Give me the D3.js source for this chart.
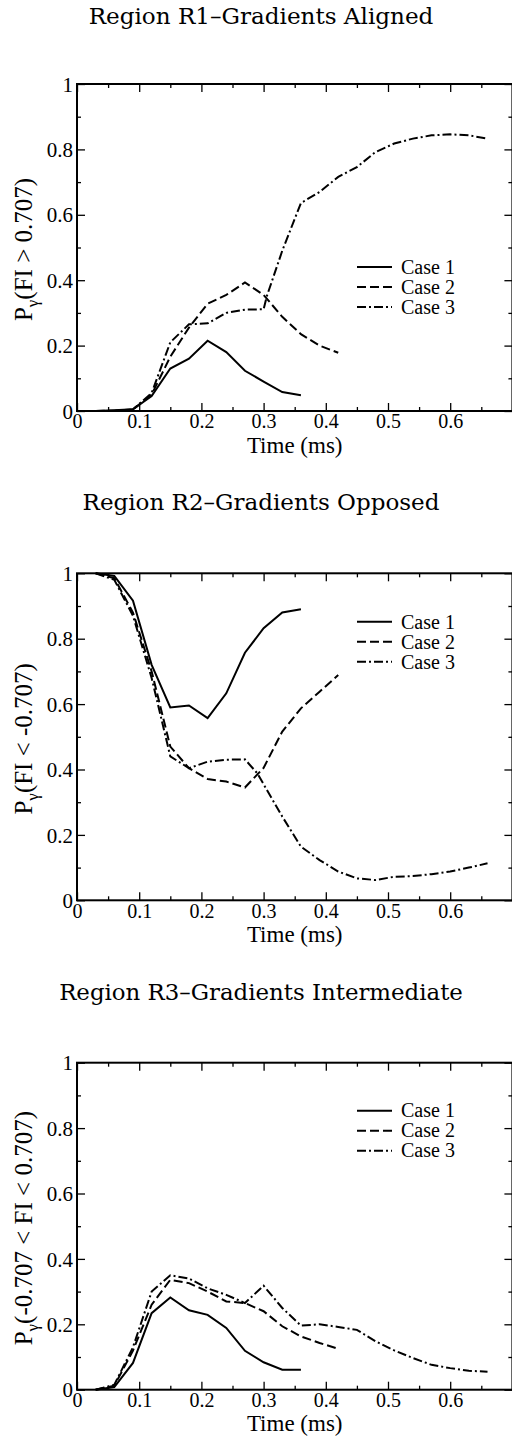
<!DOCTYPE html>
<html>
<head>
<meta charset="utf-8">
<script src="https://cdn.jsdelivr.net/npm/d3@7"></script>
<style>
  body { margin: 0; background: #fff; }
  svg { display: block; }
  text { font-family: "Liberation Serif", "Times New Roman", serif; fill: #000; }
  text.title { font-family: "DejaVu Serif", serif; }
</style>
</head>
<body>
<svg id="chart" width="512" height="1437"></svg>
<script>
// time samples (ms)
const timeCase1 = [0.03, 0.06, 0.09, 0.12, 0.15, 0.18, 0.21, 0.24, 0.27, 0.30, 0.33, 0.36];
const timeCase2 = [0.03, 0.06, 0.09, 0.12, 0.15, 0.18, 0.21, 0.24, 0.27, 0.30, 0.33, 0.36, 0.39, 0.42];
const timeCase3 = [0.03, 0.06, 0.09, 0.12, 0.15, 0.18, 0.21, 0.24, 0.27, 0.30, 0.33, 0.36, 0.39, 0.42,
                   0.45, 0.48, 0.51, 0.54, 0.57, 0.60, 0.63, 0.66];
const timeCase3R1 = [0.03, 0.06, 0.09, 0.12, 0.15, 0.18, 0.21, 0.24, 0.27, 0.30, 0.305, 0.33, 0.36, 0.39,
                     0.42, 0.45, 0.48, 0.51, 0.54, 0.57, 0.60, 0.63, 0.66];
const timeCase3R2 = [0.03, 0.06, 0.09, 0.12, 0.15, 0.18, 0.21, 0.24, 0.27, 0.29, 0.33, 0.36, 0.39, 0.42,
                     0.45, 0.48, 0.51, 0.54, 0.57, 0.60, 0.63, 0.66];

// Region R1 - gradients aligned
const r1Case1 = [0, 0.002, 0.005, 0.046, 0.13, 0.16, 0.215, 0.18, 0.123, 0.09, 0.058, 0.048];
const r1Case2 = [0, 0.001, 0.005, 0.05, 0.166, 0.255, 0.328, 0.355, 0.393, 0.355, 0.288, 0.235, 0.2, 0.178];
const r1Case3 = [0, 0, 0.005, 0.055, 0.21, 0.265, 0.268, 0.30, 0.31, 0.311, 0.35, 0.49, 0.636, 0.67,
                 0.716, 0.746, 0.792, 0.818, 0.833, 0.843, 0.846, 0.843, 0.833];

// Region R2 - gradients opposed
const r2Case1 = [1.0, 0.992, 0.916, 0.72, 0.59, 0.596, 0.557, 0.633, 0.757, 0.832, 0.88, 0.89];
const r2Case2 = [1.0, 0.985, 0.88, 0.70, 0.47, 0.404, 0.371, 0.363, 0.345, 0.405, 0.516, 0.587, 0.638, 0.689];
const r2Case3 = [1.0, 0.98, 0.87, 0.68, 0.44, 0.404, 0.424, 0.43, 0.431, 0.388, 0.256, 0.164, 0.123, 0.088,
                 0.067, 0.062, 0.072, 0.074, 0.08, 0.088, 0.1, 0.113];

// Region R3 - gradients intermediate
const r3Case1 = [0, 0.008, 0.082, 0.234, 0.282, 0.243, 0.229, 0.189, 0.119, 0.084, 0.061, 0.061];
const r3Case2 = [0, 0.012, 0.12, 0.26, 0.336, 0.326, 0.30, 0.27, 0.265, 0.24, 0.194, 0.163, 0.143, 0.125];
const r3Case3 = [0, 0.015, 0.13, 0.30, 0.35, 0.34, 0.31, 0.29, 0.265, 0.318, 0.25, 0.196, 0.2, 0.192,
                 0.183, 0.148, 0.12, 0.097, 0.076, 0.066, 0.058, 0.055];

const caseNames = ["Case 1", "Case 2", "Case 3"];
const xMajor = [0, 0.1, 0.2, 0.3, 0.4, 0.5, 0.6];
const xMinor = [0.05, 0.15, 0.25, 0.35, 0.45, 0.55, 0.65];
const yMajor = [0, 0.2, 0.4, 0.6, 0.8, 1];
const yMinor = [0.1, 0.3, 0.5, 0.7, 0.9];

const titles = ["Region R1\u2013Gradients Aligned", "Region R2\u2013Gradients Opposed", "Region R3\u2013Gradients Intermediate"];
const yLabels = ["(FI > 0.707)", "(FI < -0.707)", "(-0.707 < FI < 0.707)"];

const dashes = [null, "9,4", "9,3,2,3"];

// layout
const panels = [
  { top: 84,    titleY: 24,   titleW: 345, legendTop: 183, series: [[timeCase1, r1Case1], [timeCase2, r1Case2], [timeCase3R1, r1Case3]] },
  { top: 573.3, titleY: 510,  titleW: 357, legendTop: 48.5, series: [[timeCase1, r2Case1], [timeCase2, r2Case2], [timeCase3R2, r2Case3]] },
  { top: 1062.7, titleY: 1000, titleW: 404, legendTop: 48, series: [[timeCase1, r3Case1], [timeCase2, r3Case2], [timeCase3, r3Case3]] }
];

const left = 77, right = 512.4, plotH = 327;
const svg = d3.select("#chart");

const x = d3.scaleLinear().domain([0, 0.7]).range([0, right - left]);
const y = d3.scaleLinear().domain([0, 1]).range([plotH, 0]);
const fmt = d3.format("~g");

panels.forEach(function (p, i) {
  // title, font size scaled to the reference width
  const t = svg.append("text")
    .attr("class", "title")
    .attr("x", 261).attr("y", p.titleY)
    .attr("text-anchor", "middle")
    .style("font-size", "20px")
    .text(titles[i]);
  const w = t.node().getComputedTextLength();
  t.style("font-size", (20 * p.titleW / w) + "px");

  const g = svg.append("g").attr("transform", "translate(" + left + "," + p.top + ")");
  const W = right - left;

  // ticks (pointing inward on all four sides)
  g.append("g").attr("transform", "translate(0," + plotH + ")")
    .call(d3.axisBottom(x).tickValues(xMajor).tickFormat(fmt).tickSize(-8).tickPadding(3));
  g.append("g").attr("transform", "translate(0," + plotH + ")")
    .call(d3.axisBottom(x).tickValues(xMinor).tickFormat("").tickSize(-4));
  g.append("g").call(d3.axisTop(x).tickValues(xMajor).tickFormat("").tickSize(-8));
  g.append("g").call(d3.axisTop(x).tickValues(xMinor).tickFormat("").tickSize(-4));
  const ay = g.append("g")
    .call(d3.axisLeft(y).tickValues(yMajor).tickFormat(fmt).tickSize(-8).tickPadding(4));
  g.append("g").call(d3.axisLeft(y).tickValues(yMinor).tickFormat("").tickSize(-4));
  g.append("g").attr("transform", "translate(" + W + ",0)")
    .call(d3.axisRight(y).tickValues(yMajor).tickFormat("").tickSize(-8));
  g.append("g").attr("transform", "translate(" + W + ",0)")
    .call(d3.axisRight(y).tickValues(yMinor).tickFormat("").tickSize(-4));

  g.selectAll(".domain").remove();
  g.selectAll(".tick line").attr("stroke", "#000").attr("stroke-width", 1.3);
  g.selectAll(".tick text").style("font-size", "20px").attr("font-family", null);
  ay.selectAll(".tick text").attr("dy", "0.34em").style("font-size", "21px");

  // frame
  g.append("rect")
    .attr("x", 0).attr("y", 0).attr("width", W).attr("height", plotH)
    .attr("fill", "none").attr("stroke", "#000").attr("stroke-width", 2);

  // curves
  const line = d3.line().x(d => x(d[0])).y(d => y(d[1]));
  p.series.forEach(function (s, k) {
    const pts = s[0].map((tt, j) => [tt, s[1][j]]);
    g.append("path")
      .datum(pts)
      .attr("d", line)
      .attr("fill", "none")
      .attr("stroke", "#000")
      .attr("stroke-width", 2)
      .attr("stroke-dasharray", dashes[k]);
  });

  // legend
  caseNames.forEach(function (name, k) {
    const ly = p.legendTop + k * 20;
    g.append("line")
      .attr("x1", 280).attr("x2", 315).attr("y1", ly).attr("y2", ly)
      .attr("stroke", "#000").attr("stroke-width", 2)
      .attr("stroke-dasharray", dashes[k]);
    g.append("text")
      .attr("x", 324).attr("y", ly).attr("dy", "0.34em")
      .style("font-size", "20px")
      .text(name);
  });

  // x axis label
  g.append("text")
    .attr("x", W / 2).attr("y", plotH + 41.5)
    .attr("text-anchor", "middle")
    .style("font-size", "23px")
    .text("Time (ms)");

  // y axis label: P subscript gamma
  const yl = svg.append("text")
    .attr("transform", "translate(32," + (p.top + plotH / 2 + 2) + ") rotate(-90)")
    .attr("text-anchor", "middle")
    .style("font-size", "25px");
  yl.append("tspan").text("P");
  yl.append("tspan").attr("dy", 6).style("font-size", "17px").text("\u03b3");
  yl.append("tspan").attr("dy", -6).text(yLabels[i]);
});
</script>
</body>
</html>
